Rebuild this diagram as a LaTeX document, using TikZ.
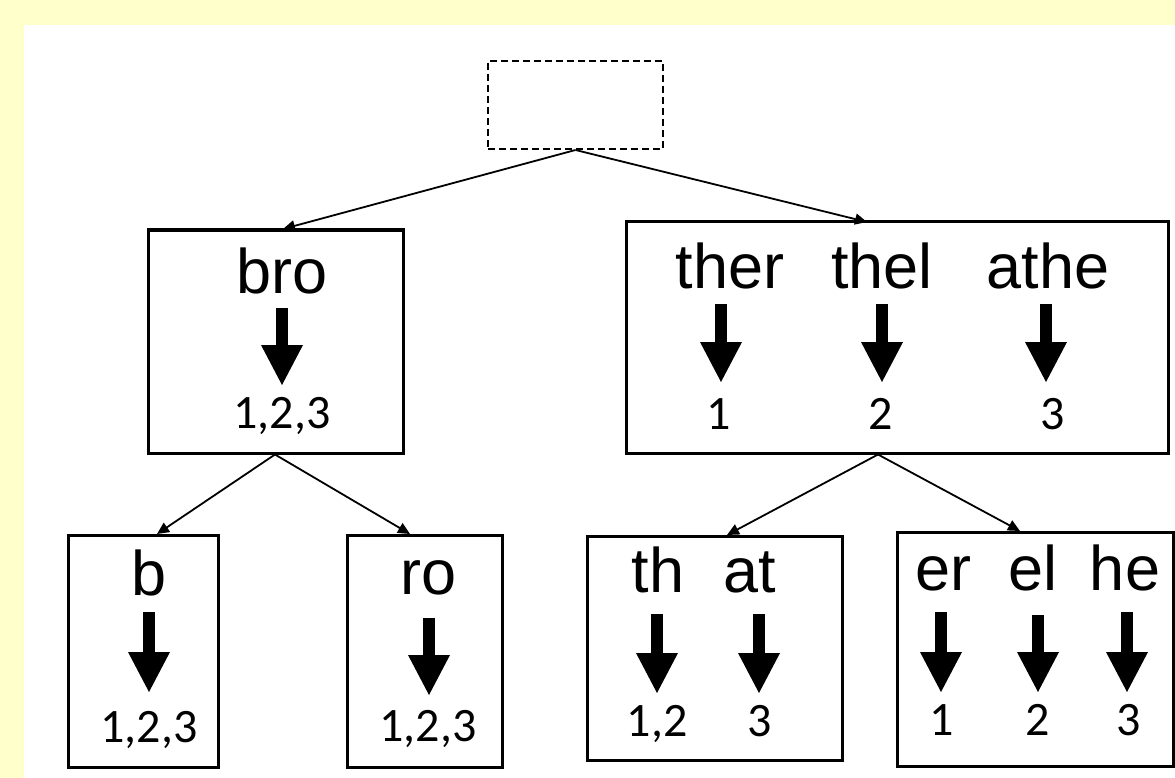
\documentclass[tikz,border=0pt]{standalone}
\usepackage{fontspec}
\setmainfont{Liberation Sans}
\newfontfamily\numfont{Carlito}
\usetikzlibrary{arrows.meta}
\definecolor{pageyellow}{HTML}{FFFFCC}
\begin{document}
\begin{tikzpicture}[x=1pt,y=-1pt,
  box/.style={draw, line width=3pt, inner sep=0pt},
  rootbox/.style={draw, line width=2pt, dash pattern=on 7pt off 4pt, inner sep=0pt,
    minimum width=175pt, minimum height=88pt},
  word/.style={anchor=base, inner sep=0pt, font=\fontsize{63}{70}\selectfont},
  num/.style={anchor=base, inner sep=0pt, font=\numfont\fontsize{48}{56}\selectfont},
  link/.style={line width=1.8pt, -{Triangle[length=12pt,width=11pt]}},
  bigarrow/.style={line width=12pt, -{Triangle[length=40pt,width=42pt,line width=0pt]}}]
\useasboundingbox (0,0) rectangle (1175,778);
\fill[pageyellow] (0,0) rectangle (1175,778);
\fill[white] (24,25) rectangle (1175,778);

% boxes
\node[rootbox] (root) at (575.5,105) {};
\node[box, minimum width=255pt, minimum height=223pt] (bro) at (275.5,341.5) {};
\node[box, minimum width=542pt, minimum height=231pt] (four) at (897,337.5) {};
\node[box, minimum width=150pt, minimum height=232pt] (bb) at (143,651) {};
\node[box, minimum width=155pt, minimum height=232pt] (ro) at (424.5,651) {};
\node[box, minimum width=255pt, minimum height=224pt] (two) at (714.5,648) {};
\node[box, minimum width=276pt, minimum height=234pt] (three) at (1035,649) {};

% where the tree links meet the boxes
\coordinate (broin) at (283,229);
\coordinate (fourin) at (867,222);
\coordinate (bbin) at (157,534);
\coordinate (roin) at (410,534);
\coordinate (twoin) at (727,535);
\coordinate (threein) at (1020,531);

\draw[link] (root.south) -- (broin);
\draw[link] (root.south) -- (fourin);
\draw[link] ([xshift=-0.5pt]bro.south) -- (bbin);
\draw[link] ([xshift=-0.5pt]bro.south) -- (roin);
\draw[link] ([xshift=-19pt]four.south) -- (twoin);
\draw[link] ([xshift=-19pt]four.south) -- (threein);

% grams
\node[word] (wbro) at (282,293) {bro};
\node[word] (wb) at (149,595) {b};
\node[word] (wro) at (429,594) {ro};
\node[word] (wther) at (730,288) {ther};
\node[word] (wthel) at (882,288) {thel};
\node[word] (wathe) at (1048,288) {athe};
\node[word] (wth) at (658,592) {th};
\node[word] (wat) at (750,592) {at};
\node[word] (wer) at (943,590) {er};
\node[word] (wel) at (1033,590) {el};
\node[word] (whe) at (1125,590) {he};

% document lists
\node[num] (nbro) at (282,428) {1,2,3};
\node[num] (nb) at (149,742) {1,2,3};
\node[num] (nro) at (428,741) {1,2,3};
\node[num] (nther) at (719,429) {1};
\node[num] (nthel) at (881,429) {2};
\node[num] (nathe) at (1053,429) {3};
\node[num] (nth) at (657,736) {1,2};
\node[num] (nat) at (760,736) {3};
\node[num] (ner) at (942,735) {1};
\node[num] (nel) at (1038,735) {2};
\node[num] (nhe) at (1129,735) {3};

% block arrows from each gram to its list
\foreach \n/\x/\ya/\yb in {bro/282/308/385, b/149/612/692, ro/429/618/695,
    ther/721/304/382, thel/882/304/382, athe/1046/304/382,
    th/657/614/693, at/759/614/693,
    er/941/612/692, el/1038/615/692, he/1127/612/692}{
  \coordinate (s\n) at (\x,\ya);
  \coordinate (e\n) at (\x,\yb);
  \draw[bigarrow] (s\n) -- (e\n);
}
\end{tikzpicture}
\end{document}
